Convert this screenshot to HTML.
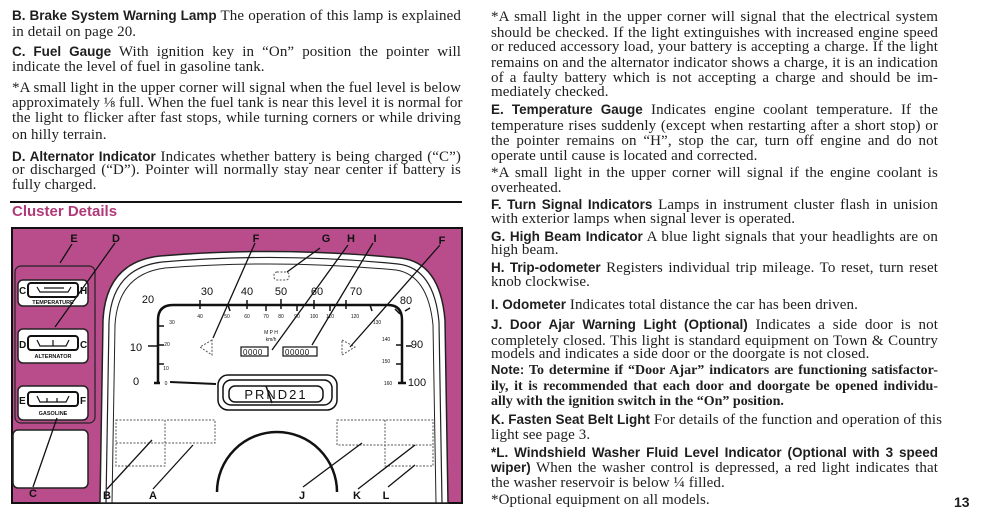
<!DOCTYPE html>
<html><head><meta charset="utf-8"><style>
body{margin:0;width:983px;height:515px;background:#fff;position:relative;overflow:hidden;font-family:"Liberation Serif",serif;color:#1e1e1e}
.l{position:absolute;white-space:nowrap;height:16px;line-height:16px;font-size:15px;letter-spacing:0.1px;text-align:justify;text-align-last:justify}
.L{left:12px;width:449px}
.R{left:491px;width:447px}
.e{text-align-last:left}
b{font-family:"Liberation Sans",sans-serif;font-weight:bold;font-size:13.5px;letter-spacing:0}
svg{position:absolute;left:0;top:0}
</style></head><body>
<svg width="983" height="515" viewBox="0 0 983 515">
<line x1="10" y1="202" x2="462" y2="202" stroke="#111" stroke-width="2"/>
<rect x="12" y="228" width="450" height="275" fill="#b94d8c" stroke="#111" stroke-width="2"/>
<path d="M100 503 L103 320 Q106 262 160 256 Q280 246 400 258 Q440 262 445 320 L448 503 Z" fill="#fff" stroke="#222" stroke-width="1.5"/>
<path d="M106 503 L109 322 Q112 268 162 262 Q280 252 398 264 Q434 268 439 322 L442 503" fill="none" stroke="#222" stroke-width="1.2"/>
<path d="M112 503 L115 325 Q118 274 165 268 Q280 259 396 270 Q428 275 433 325 L436 503" fill="none" stroke="#222" stroke-width="1"/>
<rect x="15" y="266" width="80" height="157" rx="6" fill="#b94d8c" stroke="#222" stroke-width="1.2"/>
<g fill="#fff" stroke="#222" stroke-width="1.5">
<rect x="18" y="280" width="70" height="26" rx="5"/><rect x="18" y="329" width="70" height="34" rx="5"/><rect x="18" y="386" width="70" height="34" rx="5"/>
<rect x="13" y="430" width="75" height="58" rx="5"/>
</g>
<g fill="none" stroke="#111" stroke-width="2">
<rect x="28" y="283" width="50" height="14" rx="3"/><rect x="28" y="336" width="50" height="14" rx="3"/><rect x="28" y="392" width="50" height="14" rx="3"/>
</g>
<g fill="none" stroke="#111" stroke-width="1.2">
<path d="M37 287 L40 292 L68 292 L71 287 M44 288 L64 288"/>
<path d="M37 340 L40 346 L66 346 L69 340 M53 340 L53 346"/>
<path d="M37 396 L40 402 L66 402 L69 396 M47 398 L47 402 M57 398 L57 402"/>
</g>
<g font-family="Liberation Sans,sans-serif" font-size="10" font-weight="bold" fill="#111">
<text x="19" y="294">C</text><text x="80" y="294">H</text>
<text x="19" y="348">D</text><text x="80" y="348">C</text>
<text x="19" y="404">E</text><text x="80" y="404">F</text>
<text x="53" y="304" font-size="5.5" text-anchor="middle">TEMPERATURE</text>
<text x="53" y="358" font-size="5.5" text-anchor="middle">ALTERNATOR</text>
<text x="53" y="415" font-size="5.5" text-anchor="middle">GASOLINE</text>
</g>
<path d="M158 383 L158 320 Q158 305 173 305 L388 305 Q402 305 402 320 L402 383" fill="none" stroke="#111" stroke-width="2.5"/>
<path d="M154 383 L160 383 M398 383 L406 383" stroke="#111" stroke-width="2.5"/>
<g stroke="#111" stroke-width="1.5">
<path d="M158 364 L164 364 M158 345 L164 345 M158 326 L164 326 M200 300 L200 309 M228 305 L230 311 M247 300 L247 309 M266 305 L266 311 M281 299 L281 309 M297 305 L297 311 M314 300 L314 309 M330 305 L330 311 M346 300 L346 309 M370 305 L372 311 M395 309 L400 314 M396 345 L402 345 M396 364 L402 364 M148 346 L158 346 M406 346 L412 346 M405 311 L410 308"/>
</g>
<line x1="170" y1="382" x2="216" y2="384" stroke="#111" stroke-width="2"/>
<g font-family="Liberation Sans,sans-serif" font-size="11" fill="#111" text-anchor="middle">
<text x="148" y="303">20</text><text x="207" y="295">30</text><text x="247" y="295">40</text><text x="281" y="295">50</text><text x="317" y="295">60</text><text x="356" y="295">70</text><text x="406" y="304">80</text>
<text x="136" y="351">10</text><text x="136" y="385">0</text><text x="417" y="348">90</text><text x="417" y="386">100</text>
</g>
<g font-family="Liberation Sans,sans-serif" font-size="5" fill="#111" text-anchor="middle">
<text x="172" y="324">30</text><text x="200" y="318">40</text><text x="227" y="318">50</text><text x="247" y="318">60</text><text x="266" y="318">70</text><text x="281" y="318">80</text><text x="297" y="318">90</text><text x="314" y="318">100</text><text x="330" y="318">110</text><text x="355" y="318">120</text><text x="377" y="324">130</text><text x="386" y="341">140</text><text x="386" y="363">150</text><text x="388" y="385">160</text><text x="167" y="346">20</text><text x="166" y="370">10</text><text x="166" y="385">0</text><text x="271" y="334">M P H</text><text x="271" y="341">km/h</text>
</g>
<g fill="#fff" stroke="#111" stroke-width="1.2">
<rect x="241" y="347" width="27" height="9"/><rect x="283" y="347" width="34" height="9"/>
</g>
<g font-family="Liberation Sans,sans-serif" font-size="8" fill="#111">
<text x="243" y="355" letter-spacing="0.5">0000</text><text x="285" y="355" letter-spacing="0.5">00000</text>
</g>
<g fill="none" stroke="#111" stroke-width="1.5">
<rect x="218" y="375" width="119" height="35" rx="10"/><rect x="223" y="380" width="109" height="25" rx="8"/><rect x="229" y="386" width="94" height="16" rx="6"/>
</g>
<text x="276" y="399" font-family="Liberation Sans,sans-serif" font-size="13" text-anchor="middle" fill="#111" letter-spacing="2">PRND21</text>
<line x1="266" y1="386" x2="272" y2="403" stroke="#111" stroke-width="1.5"/>
<g fill="none" stroke="#555" stroke-width="1" stroke-dasharray="2,1.5">
<path d="M212 340 L200 347 L212 355 Z"/><path d="M342 340 L355 347 L342 355 Z"/><rect x="274" y="272" width="15" height="8" rx="3"/>
<rect x="116" y="420" width="49" height="46"/><path d="M116 443 L215 443 L215 420 L165 420"/>
<rect x="337" y="420" width="96" height="25"/><path d="M385 420 L385 466 L433 466 L433 445"/>
</g>
<path d="M217 492 A60 60 0 0 1 337 492" fill="none" stroke="#111" stroke-width="2.5"/>
<g stroke="#111" stroke-width="1.3">
<line x1="72" y1="244" x2="60" y2="263"/><line x1="115" y1="243" x2="55" y2="327"/><line x1="255" y1="243" x2="213" y2="338"/><line x1="320" y1="248" x2="287" y2="272"/><line x1="348" y1="245" x2="272" y2="350"/><line x1="373" y1="243" x2="312" y2="345"/><line x1="440" y1="245" x2="350" y2="347"/>
<line x1="33" y1="487" x2="57" y2="418"/><line x1="107" y1="489" x2="152" y2="440"/><line x1="153" y1="489" x2="193" y2="445"/><line x1="303" y1="487" x2="362" y2="443"/><line x1="358" y1="489" x2="415" y2="445"/><line x1="388" y1="487" x2="415" y2="465"/>
</g>
<g font-family="Liberation Sans,sans-serif" font-size="11" font-weight="bold" fill="#111" text-anchor="middle">
<text x="74" y="242">E</text><text x="116" y="242">D</text><text x="256" y="242">F</text><text x="326" y="242">G</text><text x="351" y="242">H</text><text x="375" y="242">I</text><text x="442" y="244">F</text>
<text x="33" y="497">C</text><text x="107" y="499">B</text><text x="153" y="499">A</text><text x="302" y="499">J</text><text x="357" y="499">K</text><text x="386" y="499">L</text>
</g>
</svg>
<div style="position:absolute;left:12px;top:203px;color:#b03a78;font:bold 15px 'Liberation Sans',sans-serif">Cluster Details</div>

<div class="l L" style="top:8px"><b>B. Brake System Warning Lamp</b> The operation of this lamp is explained</div>
<div class="l L e" style="top:24px">in detail on page 20.</div>
<div class="l L" style="top:44px"><b>C. Fuel Gauge</b> With ignition key in “On” position the pointer will</div>
<div class="l L e" style="top:59px">indicate the level of fuel in gasoline tank.</div>
<div class="l L" style="top:80px">*A small light in the upper corner will signal when the fuel level is below</div>
<div class="l L" style="top:95px">approximately ⅛ full. When the fuel tank is near this level it is normal for</div>
<div class="l L" style="top:110px">the light to flicker after fast stops, while turning corners or while driving</div>
<div class="l L e" style="top:127px">on hilly terrain.</div>
<div class="l L" style="top:149px"><b>D. Alternator Indicator</b> Indicates whether battery is being charged (“C”)</div>
<div class="l L" style="top:162px">or discharged (“D”). Pointer will normally stay near center if battery is</div>
<div class="l L e" style="top:177px">fully charged.</div>

<div class="l R" style="top:9px">*A small light in the upper corner will signal that the electrical system</div>
<div class="l R" style="top:25px">should be checked. If the light extinguishes with increased engine speed</div>
<div class="l R" style="top:39px">or reduced accessory load, your battery is accepting a charge. If the light</div>
<div class="l R" style="top:55px">remains on and the alternator indicator shows a charge, it is an indication</div>
<div class="l R" style="top:70px">of a faulty battery which is not accepting a charge and should be im-</div>
<div class="l R e" style="top:84px">mediately checked.</div>
<div class="l R" style="top:102px"><b>E. Temperature Gauge</b> Indicates engine coolant temperature. If the</div>
<div class="l R" style="top:118px">temperature rises suddenly (except when restarting after a short stop) or</div>
<div class="l R" style="top:133px">the pointer remains on “H”, stop the car, turn off engine and do not</div>
<div class="l R e" style="top:148px">operate until cause is located and corrected.</div>
<div class="l R" style="top:165px">*A small light in the upper corner will signal if the engine coolant is</div>
<div class="l R e" style="top:180px">overheated.</div>
<div class="l R" style="top:197px"><b>F. Turn Signal Indicators</b> Lamps in instrument cluster flash in unision</div>
<div class="l R e" style="top:211px">with exterior lamps when signal lever is operated.</div>
<div class="l R" style="top:229px"><b>G. High Beam Indicator</b> A blue light signals that your headlights are on</div>
<div class="l R e" style="top:242px">high beam.</div>
<div class="l R" style="top:260px"><b>H. Trip-odometer</b> Registers individual trip mileage. To reset, turn reset</div>
<div class="l R e" style="top:274px">knob clockwise.</div>
<div class="l R e" style="top:297px"><b>I. Odometer</b> Indicates total distance the car has been driven.</div>
<div class="l R" style="top:317px"><b>J. Door Ajar Warning Light (Optional)</b> Indicates a side door is not</div>
<div class="l R" style="top:333px">completely closed. This light is standard equipment on Town &amp; Country</div>
<div class="l R e" style="top:346px">models and indicates a side door or the doorgate is not closed.</div>
<div class="l R" style="top:362px;font-weight:bold;font-size:14px;letter-spacing:0"><span style="font-family:'Liberation Sans',sans-serif;font-size:13px">Note:</span> To determine if “Door Ajar” indicators are functioning satisfactor-</div>
<div class="l R" style="top:379px;font-weight:bold;font-size:14px;letter-spacing:0">ily, it is recommended that each door and doorgate be opened individu-</div>
<div class="l R e" style="top:394px;font-weight:bold;font-size:14px;letter-spacing:0">ally with the ignition switch in the “On” position.</div>
<div class="l R" style="top:412px"><b>K. Fasten Seat Belt Light</b> For details of the function and operation of this</div>
<div class="l R e" style="top:427px">light see page 3.</div>
<div class="l R" style="top:445px"><b>*L. Windshield Washer Fluid Level Indicator (Optional with 3 speed</b></div>
<div class="l R" style="top:460px"><b>wiper)</b> When the washer control is depressed, a red light indicates that</div>
<div class="l R e" style="top:475px">the washer reservoir is below ¼ filled.</div>
<div class="l R e" style="top:492px">*Optional equipment on all models.</div>
<div style="position:absolute;left:954px;top:494px;font:bold 14px 'Liberation Sans',sans-serif">13</div>
</body></html>
